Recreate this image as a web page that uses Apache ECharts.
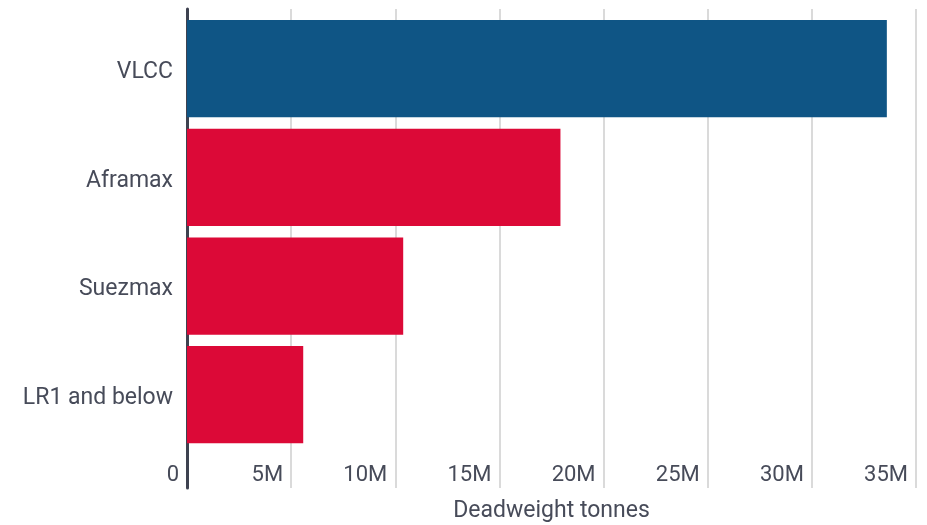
<!DOCTYPE html>
<html>
<head>
<meta charset="utf-8">
<script src="https://cdn.jsdelivr.net/npm/echarts@6/dist/echarts.min.js"></script>
<style>
html,body{margin:0;padding:0;background:#fff;}
#chart{width:927px;height:525px;}
</style>
</head>
<body>
<div id="chart"></div>
<script>
const categories = ['VLCC', 'Aframax', 'Suezmax', 'LR1 and below'];
const values = [33600000, 17930000, 10380000, 5580000];
const tickLabels = ['0', '5M', '10M', '15M', '20M', '25M', '30M', '35M'];
const axisTitle = 'Deadweight tonnes';

const textColor = '#474b59';
const font = 'Roboto';
const chart = echarts.init(document.getElementById('chart'), null, {renderer: 'canvas'});

const option = {
  animation: false,
  backgroundColor: '#ffffff',
  grid: [
    {left: 187, right: 11, top: 14.4, bottom: 76, outerBoundsMode: 'none', containLabel: false},
    {left: 187, right: 11, top: 9, bottom: 37, outerBoundsMode: 'none', containLabel: false}
  ],
  xAxis: [
    {
      gridIndex: 0, type: 'value', min: 0, max: 35000000, interval: 5000000,
      splitLine: {show: false}, axisLine: {show: false}, axisTick: {show: false},
      axisLabel: {
        show: true, color: textColor, fontFamily: font, fontSize: 22, lineHeight: 22,
        align: 'right', padding: [0, 8, 0, 0], margin: 15,
        formatter: (v, i) => tickLabels[i]
      },
      name: axisTitle, nameLocation: 'middle', nameGap: 51,
      nameTextStyle: {color: textColor, fontFamily: font, fontSize: 23, lineHeight: 23}
    },
    {
      gridIndex: 1, type: 'value', min: 0, max: 35000000, interval: 5000000,
      splitLine: {show: true, lineStyle: {color: '#dadada', width: 2}},
      axisLine: {show: false}, axisTick: {show: false}, axisLabel: {show: false}
    }
  ],
  yAxis: [
    {
      gridIndex: 0, type: 'category', data: categories, inverse: true,
      axisLine: {show: false}, axisTick: {show: false}, splitLine: {show: false},
      axisLabel: {color: textColor, fontFamily: font, fontSize: 23, lineHeight: 7, verticalAlign: 'top', margin: 14}
    },
    {
      gridIndex: 1, type: 'value', min: 0, max: 1,
      axisLine: {show: true, lineStyle: {color: '#3e4250', width: 3}},
      axisTick: {show: false}, axisLabel: {show: false}, splitLine: {show: false}
    }
  ],
  series: [{
    type: 'bar',
    xAxisIndex: 0, yAxisIndex: 0,
    barCategoryGap: '10.5%',
    data: values.map((v, i) => ({
      value: v,
      itemStyle: {color: categories[i] === 'VLCC' ? '#0f5585' : '#dc0937'}
    }))
  }]
};
chart.setOption(option);
</script>
</body>
</html>
